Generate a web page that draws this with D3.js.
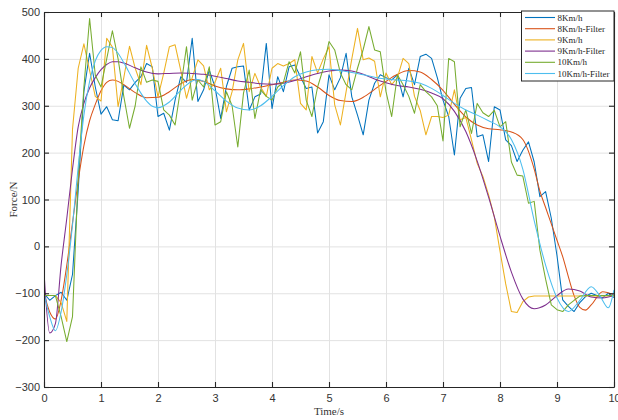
<!DOCTYPE html>
<html>
<head>
<meta charset="utf-8">
<script src="https://cdn.jsdelivr.net/npm/d3@7"></script>
<style>
  html, body { margin: 0; padding: 0; background: #fff; }
  svg { display: block; font-family: "Liberation Serif", "Times New Roman", serif; }
  .tick text { fill: #333; font-size: 11px; }
  .grid line { stroke: #e2e2e2; }
  .grid path { display: none; }
</style>
</head>
<body>
<div id="chart"></div>
<script>
// Sample instants of the raw signals (every 0.1 s, 0..10 s)
const sampleTimes = d3.range(101).map(i => i / 10);

const raw8 = [
  -100, -115, -105, -98, -115, -60, 120, 330, 412, 340,
  282, 298, 270, 268, 344, 334, 350, 362, 390, 383,
  277, 284, 248, 312, 362, 350, 444, 309, 334, 376,
  340, 273, 341, 380, 383, 385, 291, 319, 325, 433,
  294, 362, 330, 383, 387, 362, 337, 340, 242, 266,
  366, 334, 360, 412, 319, 280, 238, 312, 348, 366,
  360, 355, 366, 319, 380, 345, 405, 410, 401, 360,
  312, 277, 195, 316, 337, 339, 234, 238, 181, 298,
  291, 227, 215, 181, 205, 223, 180, 106, 117, 60,
  -20, -114, -128, -139, -120, -107, -100, -105, -110, -100,
  -109
];
const raw9 = [
  -105, -105, -105, -120, -160, 250, 380, 432, 375, 320,
  310, 444, 425, 298, 360, 427, 380, 345, 429, 380,
  319, 369, 426, 430, 375, 316, 360, 398, 385, 334,
  350, 380, 287, 330, 398, 433, 330, 369, 340, 320,
  380, 390, 385, 390, 398, 305, 291, 405, 370, 400,
  426, 302, 259, 330, 400, 465, 398, 402, 395, 319,
  370, 345, 360, 401, 390, 320, 290, 238, 277, 277,
  275, 280, 334, 270, 275, 227, 177, 149, 110, 63,
  -10, -80, -139, -141, -118, -108, -106, -106, -106, -106,
  -106, -106, -106, -106, -106, -106, -106, -106, -106, -106,
  -106
];
const raw10 = [
  -105, -105, -105, -150, -203, -150, 150, 340, 486, 365,
  340, 400, 460, 400, 320, 252, 300, 383, 350, 355,
  352, 291, 280, 259, 340, 426, 312, 355, 340, 383,
  259, 266, 330, 300, 212, 327, 376, 273, 334, 320,
  312, 340, 350, 394, 370, 415, 312, 277, 340, 380,
  437, 419, 370, 345, 334, 380, 420, 469, 419, 415,
  330, 277, 366, 345, 320, 284, 345, 330, 319, 300,
  225, 401, 394, 255, 291, 241, 305, 285, 277, 290,
  255, 266, 180, 152, 150, 92, 96, -8, -70, -125,
  -135, -139, -125, -115, -106, -105, -105, -105, -105, -105,
  -105
];

// Filtered curves as [time, force] pairs
const filt8 = [
  [0, -100], [0.1, -140], [0.2, -155], [0.3, -115], [0.4, -40], [0.5, 50], [0.6, 140],
  [0.7, 215], [0.8, 268], [0.9, 303], [1.0, 332], [1.1, 350], [1.2, 355], [1.3, 352],
  [1.4, 345], [1.6, 328], [1.8, 317], [2.0, 318], [2.2, 330], [2.4, 347], [2.6, 356],
  [2.8, 352], [3.0, 342], [3.2, 336], [3.4, 334], [3.6, 336], [3.8, 340], [4.0, 345],
  [4.2, 350], [4.4, 355], [4.6, 353], [4.8, 340], [5.0, 322], [5.2, 311], [5.4, 309],
  [5.6, 318], [5.8, 335], [6.0, 352], [6.2, 367], [6.4, 375], [6.6, 372], [6.8, 356],
  [7.0, 333], [7.2, 303], [7.4, 276], [7.6, 259], [7.8, 251], [8.0, 249], [8.2, 244],
  [8.4, 228], [8.6, 165], [8.7, 118], [8.8, 83], [8.9, 48], [9.0, 13], [9.1, -22],
  [9.2, -65], [9.3, -105], [9.4, -130], [9.5, -136], [9.6, -125], [9.8, -97], [10, -104]
];
const filt9 = [
  [0, -55], [0.1, -185], [0.2, -165], [0.3, -40], [0.4, 60], [0.5, 165], [0.6, 255],
  [0.7, 305], [0.8, 338], [0.9, 360], [1.0, 377], [1.1, 388], [1.2, 394], [1.3, 394],
  [1.4, 391], [1.6, 381], [1.8, 372], [2.0, 368], [2.2, 369], [2.4, 370], [2.6, 369],
  [2.8, 367], [3.0, 363], [3.2, 358], [3.4, 353], [3.6, 350], [3.8, 347], [4.0, 346],
  [4.2, 348], [4.4, 354], [4.6, 362], [4.8, 369], [5.0, 374], [5.2, 376], [5.4, 374],
  [5.6, 367], [5.8, 357], [6.0, 349], [6.2, 343], [6.4, 340], [6.6, 335], [6.8, 327],
  [7.0, 315], [7.2, 288], [7.4, 245], [7.6, 182], [7.8, 105], [8.0, 22], [8.2, -55],
  [8.4, -112], [8.6, -133], [8.8, -125], [9.0, -105], [9.2, -91], [9.4, -95], [9.6, -108],
  [9.8, -110], [10, -104]
];
const filt10 = [
  [0, -100], [0.1, -150], [0.2, -180], [0.3, -140], [0.4, -60], [0.5, 45], [0.6, 170],
  [0.7, 280], [0.8, 352], [0.9, 396], [1.0, 418], [1.1, 426], [1.2, 424], [1.3, 412],
  [1.4, 392], [1.6, 347], [1.8, 310], [1.9, 299], [2.0, 296], [2.2, 308], [2.4, 333],
  [2.6, 353], [2.7, 356], [2.8, 352], [3.0, 332], [3.2, 310], [3.4, 295], [3.6, 291],
  [3.8, 300], [4.0, 320], [4.2, 343], [4.4, 362], [4.6, 372], [4.8, 377], [5.0, 378],
  [5.2, 375], [5.4, 371], [5.6, 366], [5.8, 361], [6.0, 357], [6.2, 355], [6.4, 353],
  [6.6, 348], [6.8, 337], [7.0, 322], [7.2, 305], [7.4, 291], [7.6, 280], [7.8, 268],
  [8.0, 255], [8.2, 228], [8.4, 165], [8.6, 55], [8.8, -40], [9.0, -110], [9.2, -139],
  [9.4, -115], [9.6, -86], [9.75, -105], [9.9, -131], [10, -93]
];

const seriesNames = ['8Km/h', '8Km/h-Filter', '9Km/h', '9Km/h-Filter', '10Km/h', '10Km/h-Filter'];
const seriesColors = ['#0072BD', '#D95319', '#EDB120', '#7E2F8E', '#77AC30', '#4DBEEE'];
const xTicks = d3.range(0, 11);
const yTicks = d3.range(-300, 501, 100);

const toPairs = vals => vals.map((v, i) => [sampleTimes[i], v]);
const seriesData = [toPairs(raw8), filt8, toPairs(raw9), filt9, toPairs(raw10), filt10];
const smooth = [false, true, false, true, false, true];

// --- chart size ---
const width = 618, height = 420;
const margin = { top: 12, right: 4, bottom: 33, left: 44 };
const innerW = width - margin.left - margin.right;
const innerH = height - margin.top - margin.bottom;

const svg = d3.select('#chart').append('svg')
  .attr('width', width)
  .attr('height', height);

const xScale = d3.scaleLinear().domain([0, 10]).range([margin.left, margin.left + innerW]);
const yScale = d3.scaleLinear().domain([-300, 500]).range([margin.top + innerH, margin.top]);

// gridlines
svg.append('g').attr('class', 'grid')
  .attr('transform', `translate(0,${margin.top + innerH})`)
  .call(d3.axisBottom(xScale).tickValues(xTicks).tickFormat('').tickSize(-innerH));
svg.append('g').attr('class', 'grid')
  .attr('transform', `translate(${margin.left},0)`)
  .call(d3.axisLeft(yScale).tickValues(yTicks).tickFormat('').tickSize(-innerW));

// lines, clipped to the plot box
svg.append('clipPath').attr('id', 'plot-clip')
  .append('rect')
  .attr('x', margin.left).attr('y', margin.top)
  .attr('width', innerW).attr('height', innerH);

const lineRaw = d3.line().x(d => xScale(d[0])).y(d => yScale(d[1]));
const lineSmooth = d3.line().x(d => xScale(d[0])).y(d => yScale(d[1])).curve(d3.curveMonotoneX);

const lines = svg.append('g').attr('clip-path', 'url(#plot-clip)');
seriesData.forEach((data, i) => {
  lines.append('path')
    .datum(data)
    .attr('fill', 'none')
    .attr('stroke', seriesColors[i])
    .attr('stroke-width', 1.05)
    .attr('stroke-linejoin', 'round')
    .attr('d', smooth[i] ? lineSmooth : lineRaw);
});

// axes (ticks point inward, MATLAB style)
const axisColor = '#262626';
const xAxis = svg.append('g')
  .attr('transform', `translate(0,${margin.top + innerH})`)
  .call(d3.axisBottom(xScale).tickValues(xTicks).tickSizeInner(-5).tickSizeOuter(0).tickPadding(7));
const yAxis = svg.append('g')
  .attr('transform', `translate(${margin.left},0)`)
  .call(d3.axisLeft(yScale).tickValues(yTicks).tickSizeInner(-5).tickSizeOuter(0).tickPadding(4));
const topAxis = svg.append('g')
  .attr('transform', `translate(0,${margin.top})`)
  .call(d3.axisTop(xScale).tickValues(xTicks).tickFormat('').tickSizeInner(-5).tickSizeOuter(0));
const rightAxis = svg.append('g')
  .attr('transform', `translate(${margin.left + innerW},0)`)
  .call(d3.axisRight(yScale).tickValues(yTicks).tickFormat('').tickSizeInner(-5).tickSizeOuter(0));

[xAxis, yAxis, topAxis, rightAxis].forEach(g => {
  g.selectAll('path.domain').attr('stroke', axisColor).attr('stroke-width', 1.1);
  g.selectAll('.tick line').attr('stroke', axisColor).attr('stroke-width', 1.1);
  g.selectAll('.tick text').attr('font-family', null).attr('font-size', null);
});

// axis titles
svg.append('text')
  .attr('x', margin.left + innerW / 2)
  .attr('y', 415)
  .attr('text-anchor', 'middle')
  .attr('font-size', 11)
  .attr('fill', '#333')
  .text('Time/s');

svg.append('text')
  .attr('transform', `translate(16.5,${margin.top + innerH / 2}) rotate(-90)`)
  .attr('text-anchor', 'middle')
  .attr('font-size', 11)
  .attr('fill', '#333')
  .text('Force/N');

// legend
const legend = svg.append('g').attr('transform', 'translate(521.5,11)');
legend.append('rect')
  .attr('width', 92.5).attr('height', 70)
  .attr('fill', '#fff')
  .attr('stroke', axisColor)
  .attr('stroke-width', 1);

seriesNames.forEach((name, i) => {
  const y = 6.5 + i * 11.2;
  legend.append('line')
    .attr('x1', 3.5).attr('x2', 33.5)
    .attr('y1', y).attr('y2', y)
    .attr('stroke', seriesColors[i])
    .attr('stroke-width', 1.1);
  legend.append('text')
    .attr('x', 36).attr('y', y)
    .attr('dy', '0.35em')
    .attr('font-size', 9)
    .attr('fill', axisColor)
    .text(name);
});
</script>
</body>
</html>
